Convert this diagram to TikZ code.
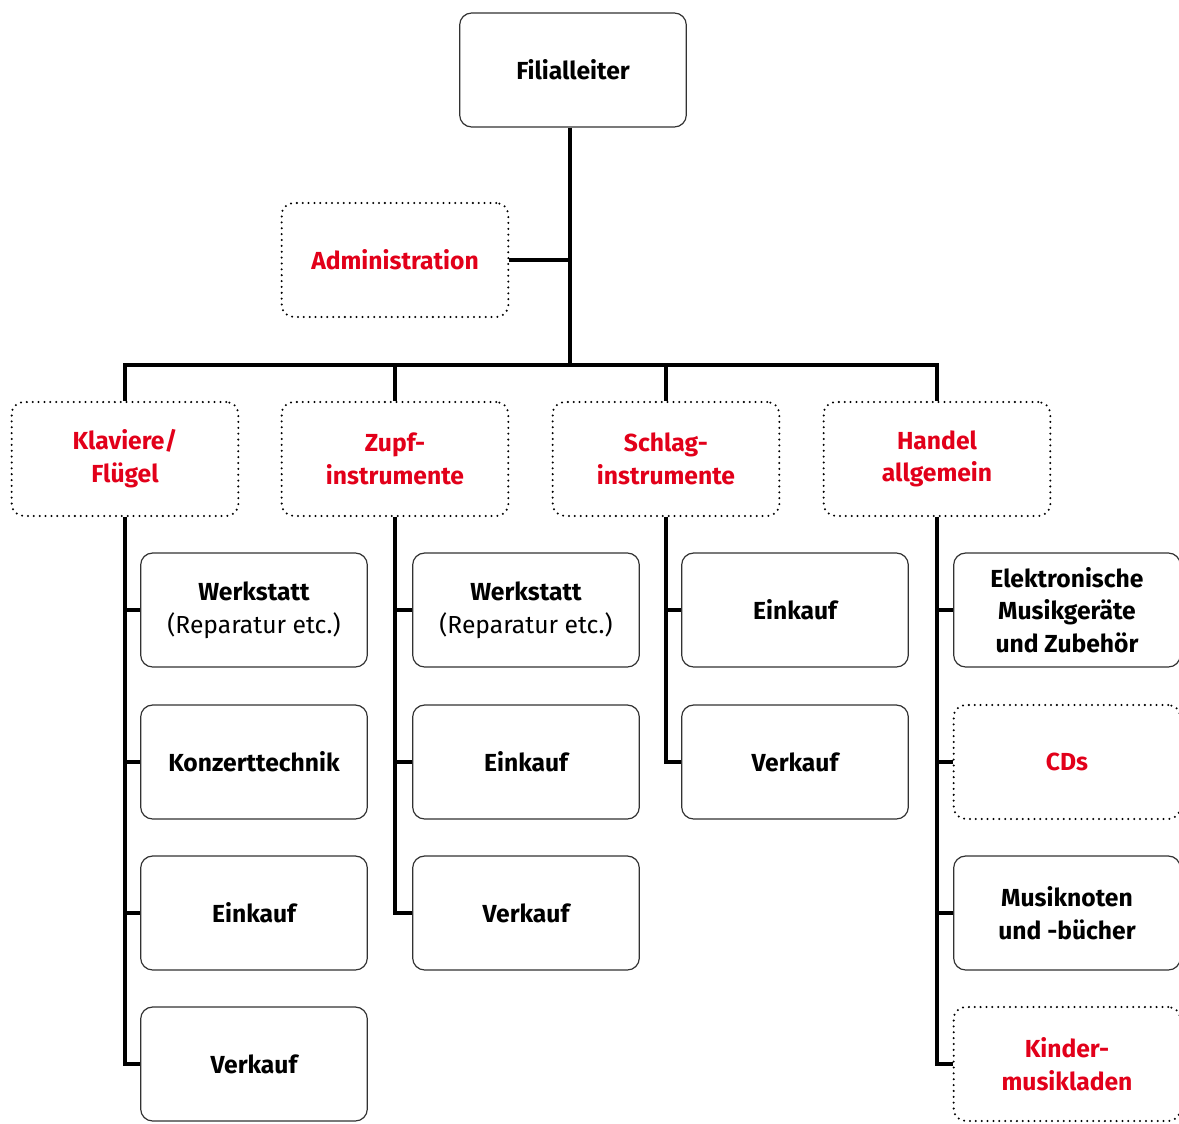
\documentclass[tikz,border=0pt]{standalone}
\usepackage{fontspec}
\setmainfont{Fira Sans}
\usetikzlibrary{positioning}
\definecolor{orgred}{RGB}{226,0,26}
\definecolor{boxgray}{RGB}{50,50,50}
\tikzset{
unit/.style = {rectangle, draw = boxgray, line width = 0.9pt, fill = white, minimum width = 170pt, minimum height = 85.5pt, rounded corners = 9pt, align = center, font = \bfseries\fontsize{18.5}{24.5}\selectfont},
staff/.style = {unit, draw = black, line width = 1.7pt, dash pattern = on 0pt off 4.4pt, line cap = round, text = orgred},
link/.style = {draw = black, line width = 3.2pt},
}

\begin{document}
\begin{tikzpicture}[x=0.75pt, y=-0.75pt]
      \useasboundingbox (0,0) rectangle (1179,1124);
      % top and staff
      \node[unit] (leiter) at (573,70) {Filialleiter};
      \node[staff] (admin) at (395,260) {Administration};
      % departments
      \node[staff] (klav) at (125,459) {Klaviere/\\Flügel};
      \node[staff] (zupf) at (395,459) {Zupf-\\instrumente};
      \node[staff] (schlag) at (666,459) {Schlag-\\instrumente};
      \node[staff] (handel) at (937,459) {Handel\\allgemein};
      % units
      \node[unit] (k1) at (254,610) {Werkstatt\\{\mdseries (Reparatur etc.)}};
      \node[unit] (k2) at (254,762) {Konzerttechnik};
      \node[unit] (k3) at (254,913) {Einkauf};
      \node[unit] (k4) at (254,1064) {Verkauf};
      \node[unit] (z1) at (526,610) {Werkstatt\\{\mdseries (Reparatur etc.)}};
      \node[unit] (z2) at (526,762) {Einkauf};
      \node[unit] (z3) at (526,913) {Verkauf};
      \node[unit] (s1) at (795,610) {Einkauf};
      \node[unit] (s2) at (795,762) {Verkauf};
      \node[unit] (h1) at (1067,610) {Elektronische\\Musikgeräte\\und Zubehör};
      \node[staff] (h2) at (1067,762) {CDs};
      \node[unit] (h3) at (1067,913) {Musiknoten\\und -bücher};
      \node[staff] (h4) at (1067,1064) {Kinder-\\musikladen};
      \coordinate (bus) at (570,365);
      \begin{scope}[every path/.style={link}]
        \draw (leiter.south -| bus) -- (bus);
        \draw (admin.east) -- (admin.east -| bus);
        \draw (klav.north) -- (klav.north |- bus) -- (handel.north |- bus) -- (handel.north);
        \draw (zupf.north) -- (zupf.north |- bus);
        \draw (schlag.north) -- (schlag.north |- bus);
        % spines
        \draw (klav.south) |- (k4.west);
        \foreach \n in {k1,k2,k3} \draw (\n.west) -- (\n.west -| klav.south);
        \draw (zupf.south) |- (z3.west);
        \foreach \n in {z1,z2} \draw (\n.west) -- (\n.west -| zupf.south);
        \draw (schlag.south) |- (s2.west);
        \draw (s1.west) -- (s1.west -| schlag.south);
        \draw (handel.south) |- (h4.west);
        \foreach \n in {h1,h2,h3} \draw (\n.west) -- (\n.west -| handel.south);
      \end{scope}
    \end{tikzpicture}
\end{document}
